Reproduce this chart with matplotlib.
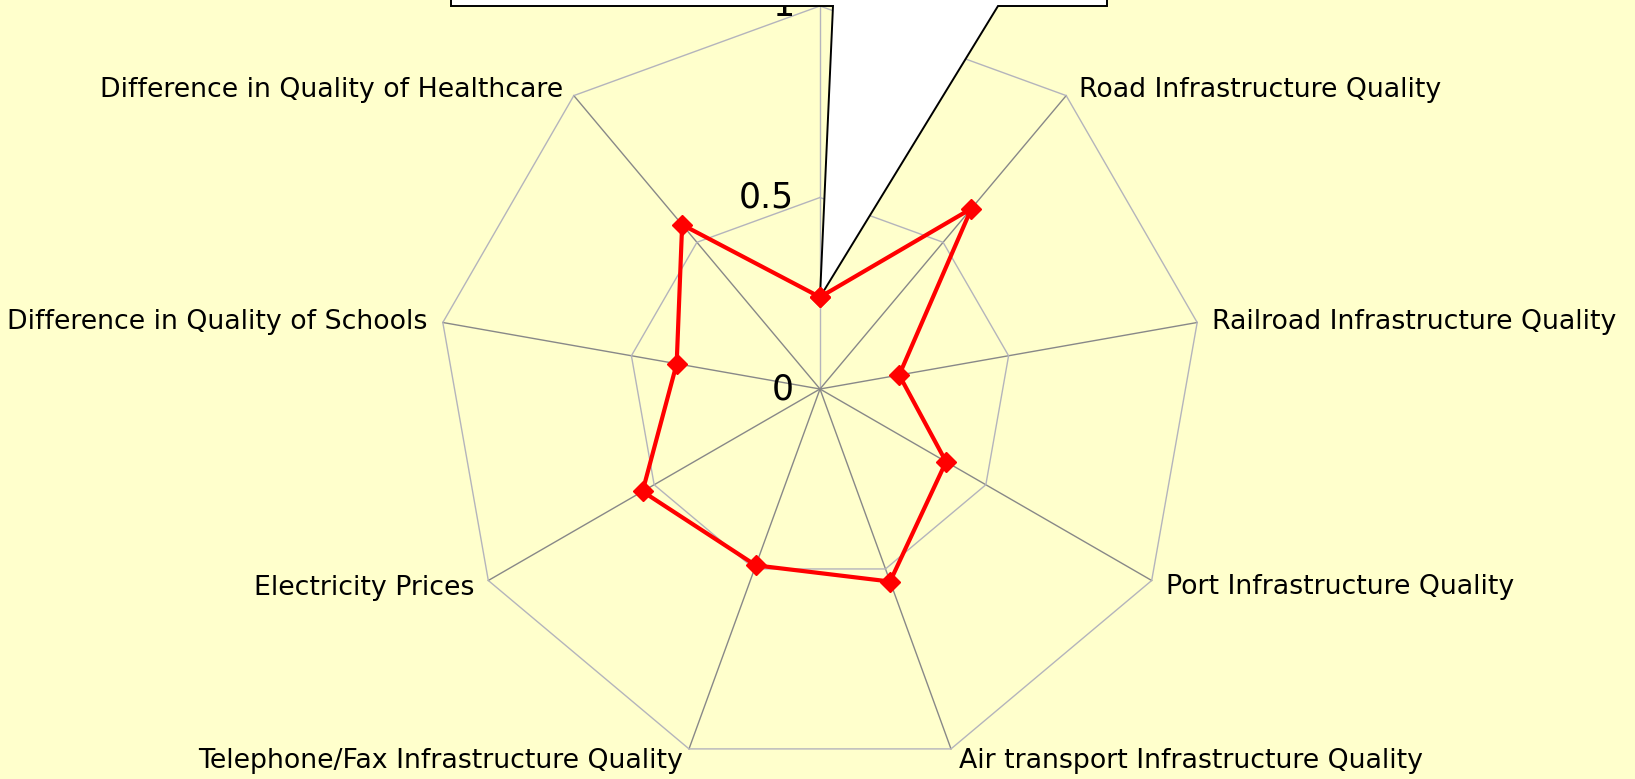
import numpy as np
import matplotlib
matplotlib.use('Agg')
import matplotlib.pyplot as plt
from matplotlib.patches import Polygon

# radar categories, clockwise from the top spoke
categories = ['', 'Road Infrastructure Quality', 'Railroad Infrastructure Quality',
              'Port Infrastructure Quality', 'Air transport Infrastructure Quality',
              'Telephone/Fax Infrastructure Quality', 'Electricity Prices',
              'Difference in Quality of Schools', 'Difference in Quality of Healthcare']
values = [0.24, 0.615, 0.21, 0.38, 0.535, 0.49, 0.535, 0.38, 0.56]
ring_levels = [0.5, 1.0]
ring_labels = ['0', '0.5', '1']

# canvas layout (pixels)
W, H = 1635, 779
CX, CY = 820, 389      # centre, measured from the top-left
R_PX = 383             # pixels for a value of 1

# label offsets from each outer vertex (pixels, y up), horizontal alignment
label_offsets = [None, (13, 6, 'left'), (15, 0, 'left'), (14, -7, 'left'),
                 (8, -12, 'left'), (-6, -12, 'right'), (-14, -7, 'right'),
                 (-15, 0, 'right'), (-11, 6, 'right')]

BG = '#FFFFCC'
SPOKE = '#888888'
RING = '#B4B4BC'


def px_to_data(px, py):
    return (px - CX) / R_PX, (CY - py) / R_PX


def polar_xy(r, ang):
    return np.asarray(r) * np.sin(ang), np.asarray(r) * np.cos(ang)


n = len(categories)
angles = np.arange(n) * 2 * np.pi / n

fig = plt.figure(figsize=(W / 100, H / 100), dpi=100)
fig.patch.set_facecolor(BG)
ax = fig.add_axes([0, 0, 1, 1])
ax.set_facecolor(BG)
ax.set_xlim((0 - CX) / R_PX, (W - CX) / R_PX)
ax.set_ylim((CY - H) / R_PX, CY / R_PX)
ax.axis('off')

# spokes
for i, a in enumerate(angles):
    x, y = polar_xy([0, 1], a)
    ax.plot(x, y, color=RING if i == 0 else SPOKE, lw=1.0, zorder=1)

# polygon rings
for lvl in ring_levels:
    x, y = polar_xy(np.full(n + 1, lvl), np.append(angles, angles[0]))
    ax.plot(x, y, color=RING, lw=1.0, zorder=1)

# value labels along the top spoke
for lvl, txt in zip([0] + ring_levels, ring_labels):
    x, y = polar_xy(lvl, 0)
    ax.annotate(txt, (x, y), xytext=(-26, 0), textcoords='offset pixels',
                ha='right', va='center', fontsize=25, color='black', zorder=2)

# category labels
for cat, a, off in zip(categories, angles, label_offsets):
    if off is None:
        continue
    x, y = polar_xy(1, a)
    ax.annotate(cat, (x, y), xytext=(off[0], off[1]), textcoords='offset pixels',
                ha=off[2], va='center', fontsize=19.3, color='black', zorder=2)

# callout box with a pointer to the top value
tip = polar_xy(values[0], angles[0])
box_left, box_right, box_bottom = 451, 1107, 6
wedge_left, wedge_right = 833, 998
pts = [px_to_data(box_left, -60), px_to_data(box_left, box_bottom),
       px_to_data(wedge_left, box_bottom), (float(tip[0]), float(tip[1])),
       px_to_data(wedge_right, box_bottom), px_to_data(box_right, box_bottom),
       px_to_data(box_right, -60)]
ax.add_patch(Polygon(pts, closed=True, facecolor='white', edgecolor='black',
                     lw=1.4, zorder=3, clip_on=False))

# data series
x, y = polar_xy(np.append(values, values[0]), np.append(angles, angles[0]))
ax.plot(x, y, color='#FF0000', lw=3, marker='D', markersize=10,
        markeredgewidth=1, markeredgecolor='#FF0000', zorder=4)

fig.savefig('out.png', dpi=100, facecolor=BG)
